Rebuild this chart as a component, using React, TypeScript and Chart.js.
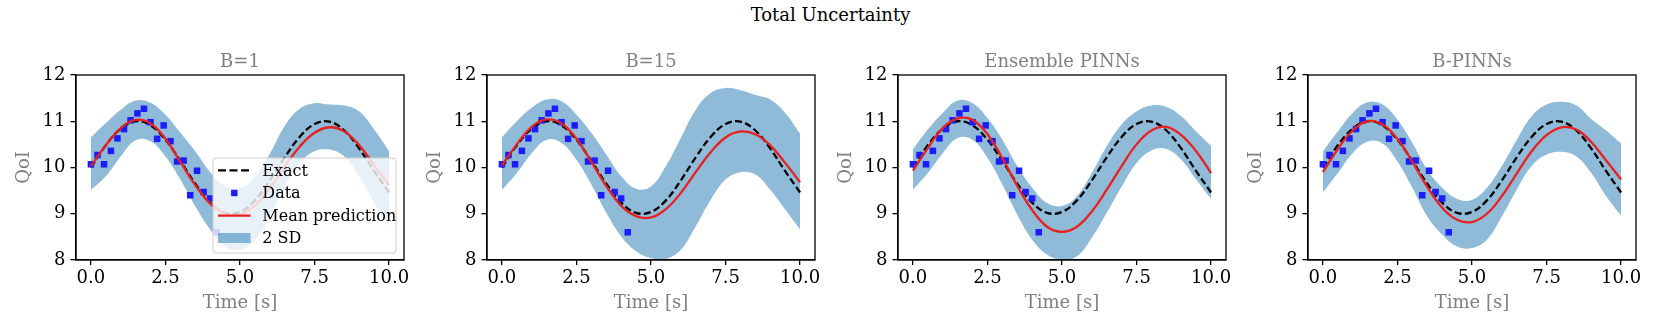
import React, { useEffect, useRef } from "react";
import { Chart, registerables } from "chart.js";

Chart.register(...registerables);
Chart.defaults.font.family = "'DejaVu Serif', serif";

// ---------- data ----------
const tGrid = [0, 0.5, 1, 1.5, 2, 2.5, 3, 3.5, 4, 4.5, 5, 5.5, 6, 6.5, 7, 7.5, 8, 8.5, 9, 9.5, 10];
const exactQoI = [10.0, 10.48, 10.84, 11.0, 10.91, 10.6, 10.14, 9.65, 9.24, 9.02, 9.04, 9.29, 9.72, 10.22, 10.66, 10.94, 10.99, 10.8, 10.41, 9.92, 9.46];

const dataTime = [0, 0.22, 0.44, 0.67, 0.89, 1.11, 1.33, 1.56, 1.78, 2.0, 2.22, 2.44, 2.67, 2.89, 3.11, 3.33, 3.56, 3.78, 4.0, 4.22];
const dataQoI = [10.07, 10.27, 10.07, 10.36, 10.63, 10.83, 11.02, 11.17, 11.27, 10.98, 10.62, 10.91, 10.57, 10.13, 10.15, 9.4, 9.93, 9.47, 9.33, 8.6];

const b1Mean = [10.03, 10.48, 10.85, 11.03, 10.95, 10.62, 10.12, 9.62, 9.22, 9.0, 8.98, 9.18, 9.55, 10.02, 10.45, 10.75, 10.87, 10.78, 10.48, 10.05, 9.62];
const b1Upper = [10.65, 10.96, 11.25, 11.45, 11.4, 11.14, 10.75, 10.35, 9.9, 9.6, 9.55, 9.8, 10.3, 10.9, 11.27, 11.39, 11.36, 11.34, 11.21, 10.82, 10.35];
const b1Lower = [9.51, 9.81, 10.24, 10.59, 10.57, 10.24, 9.74, 9.16, 8.66, 8.3, 8.22, 8.44, 8.94, 9.59, 10.1, 10.35, 10.39, 10.24, 9.81, 9.23, 8.73];

const b15Mean = [10.04, 10.5, 10.88, 11.04, 10.95, 10.62, 10.12, 9.6, 9.17, 8.95, 8.92, 9.1, 9.45, 9.9, 10.33, 10.65, 10.78, 10.72, 10.48, 10.1, 9.68];
const b15Upper = [10.65, 11.0, 11.29, 11.47, 11.43, 11.14, 10.75, 10.28, 9.81, 9.54, 9.59, 10.03, 10.64, 11.25, 11.61, 11.72, 11.67, 11.57, 11.47, 11.18, 10.73];
const b15Lower = [9.51, 9.88, 10.31, 10.6, 10.53, 10.17, 9.63, 9.02, 8.51, 8.19, 8.04, 8.02, 8.22, 8.73, 9.3, 9.74, 9.9, 9.85, 9.52, 9.09, 8.66];

const ensMean = [9.93, 10.42, 10.85, 11.06, 11.03, 10.72, 10.2, 9.6, 9.08, 8.72, 8.61, 8.72, 9.05, 9.52, 10.03, 10.5, 10.8, 10.88, 10.7, 10.35, 9.88];
const ensUpper = [10.39, 10.82, 11.18, 11.45, 11.39, 11.07, 10.6, 10.03, 9.56, 9.23, 9.17, 9.38, 9.88, 10.46, 10.93, 11.21, 11.34, 11.31, 11.11, 10.78, 10.47];
const ensLower = [9.52, 9.88, 10.31, 10.64, 10.6, 10.21, 9.63, 8.98, 8.44, 8.12, 8.01, 8.08, 8.48, 9.02, 9.59, 10.1, 10.37, 10.4, 10.17, 9.74, 9.32];

const bpMean = [9.9, 10.4, 10.8, 11.0, 10.93, 10.62, 10.12, 9.58, 9.13, 8.87, 8.82, 9.0, 9.38, 9.87, 10.35, 10.7, 10.87, 10.82, 10.55, 10.15, 9.74];
const bpUpper = [10.35, 10.78, 11.18, 11.41, 11.36, 11.03, 10.53, 9.95, 9.56, 9.32, 9.3, 9.56, 10.03, 10.6, 11.11, 11.36, 11.42, 11.34, 11.05, 10.8, 10.52];
const bpLower = [9.46, 9.88, 10.31, 10.56, 10.52, 10.13, 9.56, 8.94, 8.55, 8.29, 8.26, 8.44, 8.94, 9.52, 10.03, 10.28, 10.34, 10.24, 9.88, 9.38, 8.96];

const panelTitles = ["B=1", "B=15", "Ensemble PINNs", "B-PINNs"];
const panelMeans = [b1Mean, b15Mean, ensMean, bpMean];
const panelUppers = [b1Upper, b15Upper, ensUpper, bpUpper];
const panelLowers = [b1Lower, b15Lower, ensLower, bpLower];

const xTickValues = [0, 2.5, 5, 7.5, 10];
const yTickValues = [8, 9, 10, 11, 12];
const legendLabels = ["Exact", "Data", "Mean prediction", "2 SD"];
const suptitle = "Total Uncertainty";
const xLabel = "Time [s]";
const yLabel = "QoI";

// ---------- styles ----------
const FONT = "'DejaVu Serif', serif";
const BAND = "rgba(31,119,180,0.5)";
const RED = "#e8211f";
const BLUE = "rgb(28,28,255)";
const GRAY = "#808080";
const LINE_W = 2.3;
const DASH = [7, 3.3];
const PANEL_LEFTS = [76, 487, 898, 1308];
const AXIS_W = 70;
const PLOT_W = 328;
const RIGHT_PAD = 12;
const CANVAS_W = AXIS_W + PLOT_W + RIGHT_PAD;
const CANVAS_H = 332;

const xy = (xs: number[], ys: number[]) => xs.map((x, i) => ({ x, y: ys[i] }));

const framePlugin = {
  id: "frame",
  afterDatasetsDraw(chart: any) {
    const { ctx, chartArea } = chart;
    ctx.save();
    ctx.strokeStyle = "#000";
    ctx.lineWidth = 1.3;
    ctx.strokeRect(chartArea.left, chartArea.top, chartArea.right - chartArea.left, chartArea.bottom - chartArea.top);
    ctx.restore();
  },
};

const legendPlugin = {
  id: "panelLegend",
  afterDatasetsDraw(chart: any, _args: any, opts: any) {
    if (!opts || !opts.show) return;
    const { ctx, chartArea } = chart;
    const w = 183;
    const h = 95;
    const x0 = chartArea.right - 8 - w;
    const y0 = chartArea.bottom - 7 - h;
    const r = 3;
    ctx.save();
    ctx.beginPath();
    ctx.moveTo(x0 + r, y0);
    ctx.lineTo(x0 + w - r, y0);
    ctx.quadraticCurveTo(x0 + w, y0, x0 + w, y0 + r);
    ctx.lineTo(x0 + w, y0 + h - r);
    ctx.quadraticCurveTo(x0 + w, y0 + h, x0 + w - r, y0 + h);
    ctx.lineTo(x0 + r, y0 + h);
    ctx.quadraticCurveTo(x0, y0 + h, x0, y0 + h - r);
    ctx.lineTo(x0, y0 + r);
    ctx.quadraticCurveTo(x0, y0, x0 + r, y0);
    ctx.closePath();
    ctx.fillStyle = "rgba(255,255,255,0.8)";
    ctx.fill();
    ctx.strokeStyle = "#cccccc";
    ctx.lineWidth = 1;
    ctx.stroke();

    const hx0 = x0 + 5;
    const hx1 = x0 + 37.6;
    const tx = x0 + 49.3;
    const rowY = [12.4, 35, 57.7, 80].map((d) => y0 + d);
    // Exact
    ctx.beginPath();
    ctx.setLineDash([8, 3.5]);
    ctx.strokeStyle = "#000";
    ctx.lineWidth = LINE_W;
    ctx.moveTo(hx0, rowY[0]);
    ctx.lineTo(hx1, rowY[0]);
    ctx.stroke();
    ctx.setLineDash([]);
    // Data
    ctx.fillStyle = BLUE;
    const cx = (hx0 + hx1) / 2;
    ctx.fillRect(cx - 3.2, rowY[1] - 3.2, 6.4, 6.4);
    // Mean
    ctx.beginPath();
    ctx.strokeStyle = RED;
    ctx.lineWidth = LINE_W;
    ctx.moveTo(hx0, rowY[2]);
    ctx.lineTo(hx1, rowY[2]);
    ctx.stroke();
    // 2 SD
    ctx.fillStyle = BAND;
    ctx.fillRect(hx0, rowY[3] - 5, hx1 - hx0, 10);

    ctx.fillStyle = "#000";
    ctx.font = `16px ${FONT}`;
    ctx.textBaseline = "middle";
    ctx.textAlign = "left";
    legendLabels.forEach((lab, i) => ctx.fillText(lab, tx, rowY[i] + 1));
    ctx.restore();
  },
};

const subTitlePlugin = {
  id: "subTitle",
  afterDraw(chart: any, _args: any, opts: any) {
    const { ctx, chartArea } = chart;
    ctx.save();
    ctx.fillStyle = GRAY;
    ctx.font = `18px ${FONT}`;
    ctx.textAlign = "center";
    ctx.textBaseline = "alphabetic";
    ctx.fillText(opts.text, (chartArea.left + chartArea.right) / 2, 66.7);
    ctx.restore();
  },
};

const curve = { tension: 0.4, cubicInterpolationMode: "default" };

function Panel({ idx }: { idx: number }) {
  const ref = useRef<HTMLCanvasElement>(null);
  useEffect(() => {
    if (!ref.current) return;
    const chart = new Chart(ref.current, {
      type: "line",
      data: {
        datasets: [
          {
            label: "upper",
            data: xy(tGrid, panelUppers[idx]),
            fill: "+1",
            backgroundColor: BAND,
            borderColor: "transparent",
            borderWidth: 0,
            pointRadius: 0,
            ...curve,
            order: 5,
          },
          {
            label: "lower",
            data: xy(tGrid, panelLowers[idx]),
            fill: false,
            borderColor: "transparent",
            borderWidth: 0,
            pointRadius: 0,
            ...curve,
            order: 6,
          },
          {
            label: "Exact",
            data: xy(tGrid, exactQoI),
            borderColor: "#000",
            borderDash: DASH,
            borderWidth: LINE_W,
            pointRadius: 0,
            fill: false,
            ...curve,
            order: 3,
          },
          {
            label: "Data",
            data: xy(dataTime, dataQoI),
            showLine: false,
            pointStyle: "rect",
            pointRadius: 4.6,
            pointBackgroundColor: BLUE,
            backgroundColor: BLUE,
            pointBorderWidth: 0,
            borderWidth: 0,
            order: 2,
          },
          {
            label: "Mean prediction",
            data: xy(tGrid, panelMeans[idx]),
            borderColor: RED,
            borderWidth: LINE_W,
            pointRadius: 0,
            fill: false,
            ...curve,
            order: 1,
          },
        ],
      },
      options: {
        animation: false,
        responsive: false,
        maintainAspectRatio: false,
        layout: { padding: { top: 75, left: 0, right: RIGHT_PAD, bottom: 0 } },
        plugins: {
          legend: { display: false },
          tooltip: { enabled: false },
          title: { display: false },
          panelLegend: { show: idx === 0 },
          subTitle: { text: panelTitles[idx] },
        } as any,
        scales: {
          x: {
            type: "linear",
            min: -0.5,
            max: 10.5,
            afterBuildTicks: (axis: any) => {
              axis.ticks = xTickValues.map((v) => ({ value: v }));
            },
            afterFit: (scale: any) => {
              scale.height = CANVAS_H - 260;
            },
            ticks: {
              color: "#000",
              font: { size: 18, family: FONT },
              padding: 3,
              maxRotation: 0,
              autoSkip: false,
              callback: (v: any) => Number(v).toFixed(1),
            },
            grid: { display: true, drawOnChartArea: false, drawTicks: true, tickLength: 5, color: "#000", lineWidth: 1.3 },
            border: { display: true, color: "#000", width: 1.3 },
            title: {
              display: true,
              text: xLabel,
              color: GRAY,
              font: { size: 18, family: FONT },
              padding: { top: 0, bottom: 18 },
            },
          },
          y: {
            type: "linear",
            min: 8,
            max: 12,
            afterBuildTicks: (axis: any) => {
              axis.ticks = yTickValues.map((v) => ({ value: v }));
            },
            afterFit: (scale: any) => {
              scale.width = AXIS_W;
            },
            ticks: {
              color: "#000",
              font: { size: 18, family: FONT },
              padding: 5,
              autoSkip: false,
              callback: (v: any) => String(v),
            },
            grid: { display: true, drawOnChartArea: false, drawTicks: true, tickLength: 5.5, color: "#000", lineWidth: 1.3 },
            border: { display: true, color: "#000", width: 1.3 },
            title: {
              display: true,
              text: yLabel,
              color: GRAY,
              font: { size: 18, family: FONT },
              padding: { top: 8, bottom: 0 },
            },
          },
        },
      } as any,
      plugins: [framePlugin, legendPlugin, subTitlePlugin],
    });
    return () => chart.destroy();
  }, [idx]);

  return (
    <canvas
      ref={ref}
      width={CANVAS_W}
      height={CANVAS_H}
      style={{ position: "absolute", left: PANEL_LEFTS[idx] - AXIS_W, top: 0, width: CANVAS_W, height: CANVAS_H, display: "block" }}
    />
  );
}

export default function App() {
  return (
    <div style={{ position: "absolute", left: 0, top: 0, width: 1661, height: 332, background: "#fff", overflow: "hidden" }}>
      <div
        style={{
          position: "absolute",
          left: 0,
          top: 4,
          width: 1661,
          textAlign: "center",
          fontFamily: FONT,
          fontSize: 18,
          lineHeight: "22px",
          color: "#000",
        }}
      >
        {suptitle}
      </div>
      {[0, 1, 2, 3].map((i) => (
        <Panel key={i} idx={i} />
      ))}
    </div>
  );
}
